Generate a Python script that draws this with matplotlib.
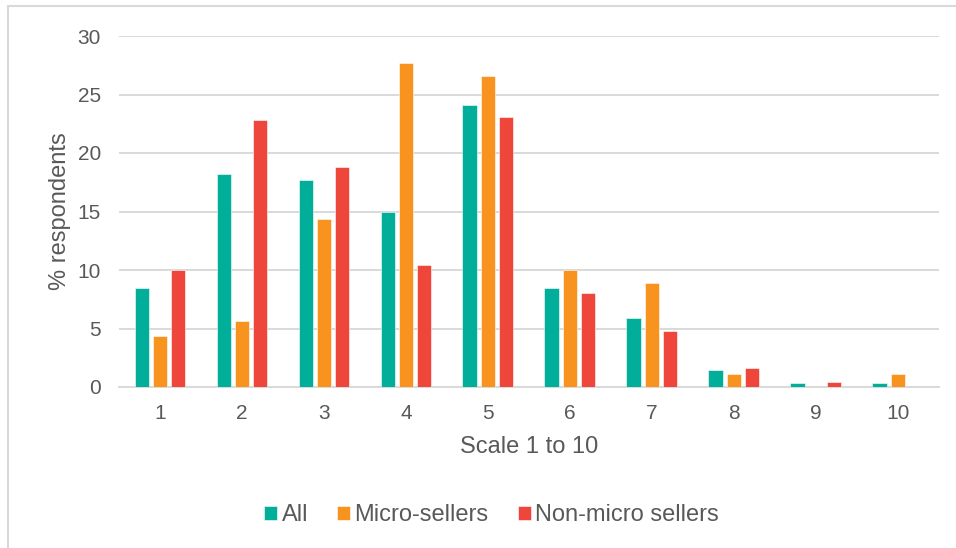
import numpy as np
import matplotlib
matplotlib.use("Agg")
import matplotlib.pyplot as plt
from matplotlib.patches import Rectangle

plt.rcParams['font.family'] = ['Liberation Sans', 'DejaVu Sans']

categories = ['1', '2', '3', '4', '5', '6', '7', '8', '9', '10']
all_resp = [8.5, 18.2, 17.7, 15.0, 24.1, 8.5, 5.9, 1.45, 0.3, 0.3]
micro = [4.4, 5.6, 14.4, 27.7, 26.6, 10.0, 8.9, 1.1, 0.0, 1.1]
non_micro = [10.0, 22.8, 18.8, 10.4, 23.1, 8.0, 4.8, 1.6, 0.4, 0.0]

series = [('All', all_resp, '#00AE9A'),
          ('Micro-sellers', micro, '#F7931E'),
          ('Non-micro sellers', non_micro, '#EF463C')]

txt = '#595959'
grid = '#D9D9D9'

fig = plt.figure(figsize=(9.56, 5.48), dpi=100)
ax = fig.add_axes([119/956, 1-387/548, (938.7-119)/956, (387-36)/548])

x = np.arange(len(categories))
w = 0.175
step = 0.222
for i, (name, vals, col) in enumerate(series):
    ax.bar(x + (i-1)*step, vals, w, color=col, label=name,
           edgecolor='white', linewidth=0.4, zorder=3)

ax.set_xlim(-0.5, len(categories)-0.5)
ax.set_ylim(0, 30)
ax.set_yticks(range(0, 31, 5))
ax.set_xticks(x)
ax.set_xticklabels(categories)
ax.yaxis.grid(True, color=grid, linewidth=1.4, zorder=0)
ax.set_axisbelow(True)
for s in ['top', 'right', 'left']:
    ax.spines[s].set_visible(False)
ax.spines['bottom'].set_color(grid)
ax.spines['bottom'].set_linewidth(1.4)
ax.tick_params(axis='both', length=0, labelsize=15, labelcolor=txt)
ax.tick_params(axis='y', pad=13)
ax.tick_params(axis='x', pad=12)

ax.set_ylabel('% respondents', fontsize=17, color=txt, va='center')
ax.yaxis.set_label_coords(-0.072, 0.5)
ax.set_xlabel('Scale 1 to 10', fontsize=17, color=txt, va='center')
ax.xaxis.set_label_coords(0.5, -0.172)

leg = fig.legend(loc='center', bbox_to_anchor=(491.5/956, 1-515/548), ncol=3,
                 frameon=False, fontsize=17, handlelength=0.55, handleheight=0.55,
                 handletextpad=0.19, columnspacing=1.23)
for t in leg.get_texts():
    t.set_color(txt)

# outer frame (top and left edges)
fig.add_artist(Rectangle((7.5/956, -0.1), 1.2, 1.1 - 6/548, transform=fig.transFigure,
                         fill=False, edgecolor='#D9D9D9', linewidth=1.5))

fig.savefig('out.png', dpi=100)
